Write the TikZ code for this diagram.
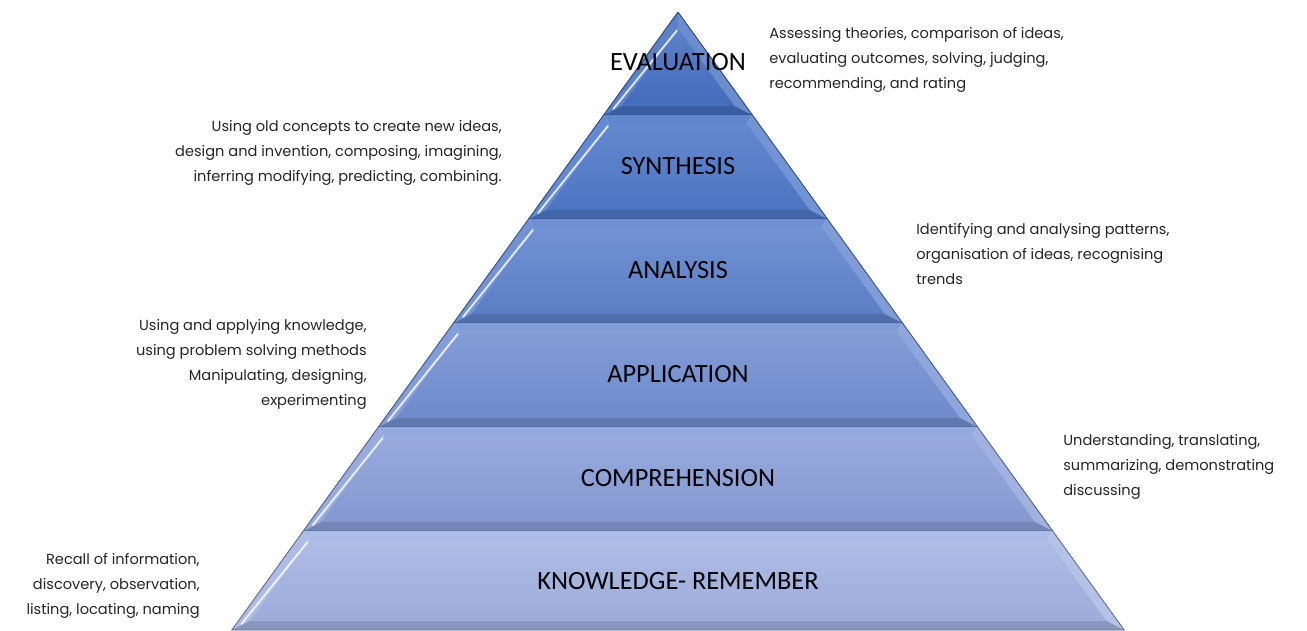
\documentclass[tikz,border=0pt]{standalone}
\usepackage{fontspec}
\setmainfont{Poppins}
\newfontfamily\levelfont{Carlito}
\definecolor{lay1}{HTML}{4670C2}
\definecolor{lay2}{HTML}{4F79C9}
\definecolor{lay3}{HTML}{5F83CD}
\definecolor{lay4}{HTML}{7290D3}
\definecolor{lay5}{HTML}{8A9FD9}
\definecolor{lay6}{HTML}{A3B3E2}
\begin{document}
\begin{tikzpicture}[x=0.02cm,y=-0.02cm,
		level/.style={font=\levelfont\fontsize{15}{18}\selectfont, text=black, inner sep=0pt},
		descl/.style={font=\fontsize{8.3}{14.2}\selectfont, text=black!85, align=left, anchor=west, inner sep=0pt},
		descr/.style={font=\fontsize{8.3}{14.2}\selectfont, text=black!85, align=right, anchor=east, inner sep=0pt}]
		\useasboundingbox (0,0) rectangle (1307,630);

		\foreach \t/\b/\c in {12/115/lay1, 115/219/lay2, 219/323/lay3, 323/427/lay4, 427/531/lay5, 531/630/lay6}{
			\pgfmathsetmacro\wt{0.722*(\t-12)}
			\pgfmathsetmacro\wb{0.722*(\b-12)}
			\pgfmathsetmacro\ti{max(\t+8,27.4)}
			\pgfmathsetmacro\bi{\b-9}
			\pgfmathsetmacro\wti{max(0.722*(\ti-12)-11.1,0)}
			\pgfmathsetmacro\wbi{0.722*(\bi-12)-11.1}
			\fill[\c!90!white] (678-\wt,\t) -- (678+\wt,\t) -- (678+\wti,\ti) -- (678-\wti,\ti) -- cycle;
			\fill[\c!88!white] (678-\wt,\t) -- (678-\wti,\ti) -- (678-\wbi,\bi) -- (678-\wb,\b) -- cycle;
			\fill[\c!80!white] (678+\wt,\t) -- (678+\wti,\ti) -- (678+\wbi,\bi) -- (678+\wb,\b) -- cycle;
			\fill[\c!84!black] (678-\wb,\b) -- (678-\wbi,\bi) -- (678+\wbi,\bi) -- (678+\wb,\b) -- cycle;
			\shade[top color=\c!88!white, bottom color=\c!96!black] (678-\wti,\ti) -- (678+\wti,\ti) -- (678+\wbi,\bi) -- (678-\wbi,\bi) -- cycle;
			\draw[white, opacity=0.8, line width=1.1pt, line cap=round] (678-\wti-1,\ti+3) -- (678-\wbi-8,\bi+3);
			\draw[\c!60!black, line width=0.5pt] (678-\wt,\t) -- (678-\wb,\b) -- (678+\wb,\b) -- (678+\wt,\t);
		}

		\node (ev)[level] at (678,62)  {EVALUATION};
		\node (sy)[level] at (678,166) {SYNTHESIS};
		\node (an)[level] at (678,270) {ANALYSIS};
		\node (ap)[level] at (678,374) {APPLICATION};
		\node (co)[level] at (678,478) {COMPREHENSION};
		\node (kn)[level] at (678,581) {KNOWLEDGE- REMEMBER};

		\node (evtxt)[descl] at (769,60)   {Assessing theories, comparison of ideas,\\evaluating outcomes, solving, judging,\\recommending, and rating};
		\node (sytxt)[descr] at (502,153)  {Using old concepts to create new ideas,\\design and invention, composing, imagining,\\inferring modifying, predicting, combining.};
		\node (antxt)[descl] at (916,254)  {Identifying and analysing patterns,\\organisation of ideas, recognising\\trends};
		\node (aptxt)[descr] at (367,364)  {Using and applying knowledge,\\using problem solving methods\\Manipulating, designing,\\experimenting};
		\node (cotxt)[descl] at (1063,467) {Understanding, translating,\\summarizing, demonstrating\\discussing};
		\node (kntxt)[descr] at (200,586)  {Recall of information,\\discovery, observation,\\listing, locating, naming};
	\end{tikzpicture}
\end{document}
